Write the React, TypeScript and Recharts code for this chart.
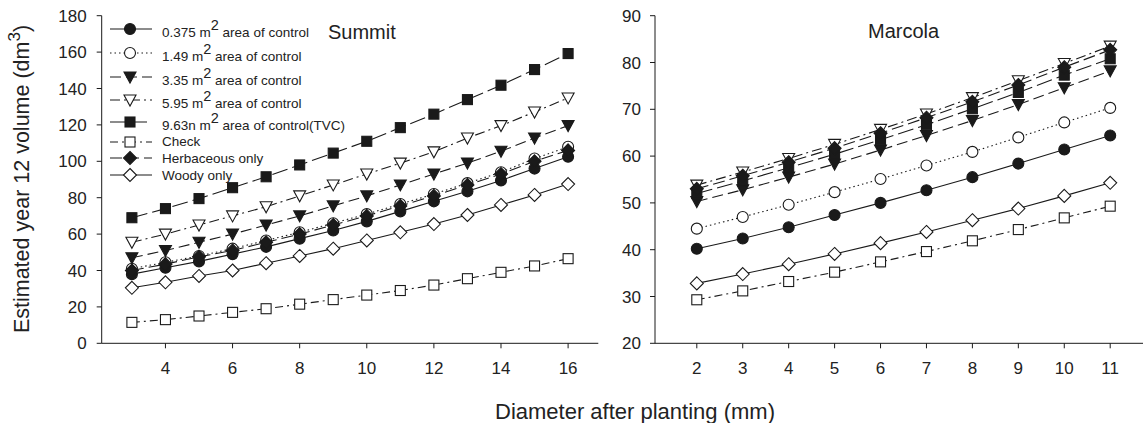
import React from 'react';
import { LineChart, Line, XAxis, YAxis } from 'recharts';

// Summit: diameter 3..16 mm
const summitDiameter = [3, 4, 5, 6, 7, 8, 9, 10, 11, 12, 13, 14, 15, 16];
const summit0375 = [38, 41.5, 45, 49, 53, 57.5, 62, 67, 72.5, 78, 83.5, 89.5, 96, 102.5];
const summit149 = [41, 44.5, 48, 52, 56.5, 61, 66, 71, 76.5, 82, 88, 94, 101.5, 108];
const summit335 = [47, 51, 55.5, 60, 65, 70, 75.5, 81, 87, 93, 99, 105.5, 112.8, 119.6];
const summit595 = [55.5, 60, 65, 70, 75, 81, 87, 93, 99, 105.2, 112.8, 119.6, 127.1, 134.8];
const summit963 = [69, 74, 79.5, 85.5, 91.5, 98, 104.5, 111, 118.5, 125.9, 133.9, 141.8, 150.4, 159.2];
const summitCheck = [11.5, 13, 15, 17, 19, 21.5, 24, 26.5, 29, 32, 35.5, 39, 42.5, 46.5];
const summitHerb = [40, 43.5, 47.5, 51, 55.5, 60, 65, 70, 75.5, 81, 87, 93, 100, 106];
const summitWoody = [30.5, 33.5, 37, 40, 44, 48, 52, 56.5, 61, 65.5, 70.5, 76, 81.5, 87.5];

// Marcola: diameter 2..11 mm
const marcolaDiameter = [2, 3, 4, 5, 6, 7, 8, 9, 10, 11];
const marcola0375 = [40.2, 42.4, 44.8, 47.4, 50.0, 52.7, 55.5, 58.4, 61.4, 64.4];
const marcola149 = [44.5, 47.0, 49.6, 52.3, 55.1, 58.0, 60.9, 64.0, 67.2, 70.3];
const marcola335 = [50.3, 52.8, 55.5, 58.3, 61.3, 64.4, 67.6, 71.0, 74.6, 78.2];
const marcola595 = [53.8, 56.6, 59.5, 62.5, 65.7, 69.0, 72.5, 76.1, 79.8, 83.5];
const marcola963 = [52.0, 54.7, 57.5, 60.4, 63.5, 66.7, 70.1, 73.6, 77.3, 80.8];
const marcolaCheck = [29.3, 31.2, 33.2, 35.2, 37.4, 39.6, 41.9, 44.3, 46.8, 49.3];
const marcolaHerb = [53.0, 55.8, 58.7, 61.7, 64.9, 68.2, 71.6, 75.2, 79.0, 82.7];
const marcolaWoody = [32.8, 34.8, 36.9, 39.1, 41.4, 43.8, 46.3, 48.8, 51.5, 54.3];

const summitTicksX = [4, 6, 8, 10, 12, 14, 16];
const summitTicksY = [0, 20, 40, 60, 80, 100, 120, 140, 160, 180];
const marcolaTicksX = [2, 3, 4, 5, 6, 7, 8, 9, 10, 11];
const marcolaTicksY = [20, 30, 40, 50, 60, 70, 80, 90];

const legendLabels = [
  '0.375 m^2 area of control',
  '1.49 m^2 area of control',
  '3.35 m^2 area of control',
  '5.95 m^2 area of control',
  '9.63n m^2 area of control(TVC)',
  'Check',
  'Herbaceous only',
  'Woody only',
];

const summitData = summitDiameter.map((d, i) => ({
  d,
  a: summit0375[i],
  b: summit149[i],
  c: summit335[i],
  dd: summit595[i],
  e: summit963[i],
  check: summitCheck[i],
  herb: summitHerb[i],
  woody: summitWoody[i],
}));

const marcolaData = marcolaDiameter.map((d, i) => ({
  d,
  a: marcola0375[i],
  b: marcola149[i],
  c: marcola335[i],
  dd: marcola595[i],
  e: marcola963[i],
  check: marcolaCheck[i],
  herb: marcolaHerb[i],
  woody: marcolaWoody[i],
}));

type Shape = 'circle' | 'tri' | 'square' | 'diamond';

const styles: { key: string; shape: Shape; filled: boolean; dash?: string }[] = [
  { key: 'a', shape: 'circle', filled: true },
  { key: 'b', shape: 'circle', filled: false, dash: '1.5 3' },
  { key: 'c', shape: 'tri', filled: true, dash: '11 5' },
  { key: 'dd', shape: 'tri', filled: false, dash: '10 4 2 4' },
  { key: 'e', shape: 'square', filled: true, dash: '16 5' },
  { key: 'check', shape: 'square', filled: false, dash: '8 4 2 4' },
  { key: 'herb', shape: 'diamond', filled: true, dash: '12 5' },
  { key: 'woody', shape: 'diamond', filled: false },
];

const INK = '#1a1a1a';
const FONT = '"Liberation Sans", Arial, sans-serif';

const Mark = ({ cx, cy, shape, filled }: { cx: number; cy: number; shape: Shape; filled: boolean }) => {
  const fill = filled ? INK : '#fff';
  const common = { fill, stroke: INK, strokeWidth: 1.1 };
  if (shape === 'circle') return <circle cx={cx} cy={cy} r={5.5} {...common} />;
  if (shape === 'square') return <rect x={cx - 5} y={cy - 5} width={10} height={10} {...common} />;
  if (shape === 'tri')
    return <polygon points={`${cx - 6},${cy - 5} ${cx + 6},${cy - 5} ${cx},${cy + 6}`} {...common} />;
  return <polygon points={`${cx},${cy - 6.5} ${cx + 6.5},${cy} ${cx},${cy + 6.5} ${cx - 6.5},${cy}`} {...common} />;
};

const makeDot = (shape: Shape, filled: boolean) => (p: any) =>
  <Mark key={`m-${p.index}`} cx={p.cx} cy={p.cy} shape={shape} filled={filled} />;

const tickStyle = { fontSize: 17, fill: '#222', fontFamily: FONT };

const renderLines = () =>
  styles.map((s) => (
    <Line
      key={s.key}
      type="linear"
      dataKey={s.key}
      stroke={INK}
      strokeWidth={1.1}
      strokeDasharray={s.dash}
      dot={makeDot(s.shape, s.filled)}
      activeDot={false}
      isAnimationActive={false}
    />
  ));

const legendRowY = [29.3, 53.3, 77.3, 100, 121.7, 141.7, 158.3, 175];

const Legend = () => (
  <>
    {legendLabels.map((label, i) => {
      const s = styles[i];
      const parts = label.split('^2');
      return (
        <div
          key={label}
          style={{
            position: 'absolute',
            left: 108,
            top: legendRowY[i] - 10,
            height: 20,
            display: 'flex',
            alignItems: 'center',
            fontSize: 13.5,
            fontFamily: FONT,
            color: '#222',
            whiteSpace: 'nowrap',
          }}
        >
          <svg width={46} height={20} style={{ marginRight: 8 }}>
            <line x1={2} y1={10} x2={44} y2={10} stroke={INK} strokeWidth={1.1} strokeDasharray={s.dash} />
            <Mark cx={22} cy={10} shape={s.shape} filled={s.filled} />
          </svg>
          <span style={{ position: 'relative', top: parts.length > 1 ? 3 : 0 }}>
            {parts[0]}
            {parts.length > 1 && (
              <>
                <span style={{ fontSize: 14.5, position: 'relative', top: -7 }}>2</span>
                {parts[1]}
              </>
            )}
          </span>
        </div>
      );
    })}
  </>
);

export default function App() {
  return (
    <div
      style={{
        position: 'absolute',
        left: 0,
        top: 0,
        width: 1143,
        height: 423,
        overflow: 'hidden',
        background: '#fff',
        fontFamily: FONT,
      }}
    >
      <div style={{ position: 'absolute', left: 0, top: 0 }}>
        <LineChart
          width={620}
          height={400}
          data={summitData}
          margin={{ top: 15.7, right: 21.7, bottom: 16.7, left: 0 }}
        >
          <XAxis
            dataKey="d"
            type="number"
            domain={[2.1, 16.9]}
            ticks={summitTicksX}
            allowDataOverflow
            height={40}
            tickSize={5}
            tickMargin={13.5}
            tick={tickStyle}
            stroke={INK}
          />
          <XAxis xAxisId="top" dataKey="d" type="number" domain={[2.1, 16.9]} orientation="top" height={0} tick={false} tickLine={false} stroke={INK} />
          <YAxis
            type="number"
            domain={[0, 180]}
            ticks={summitTicksY}
            width={101.7}
            tickSize={5}
            tickMargin={10}
            tick={tickStyle}
            stroke={INK}
          />
          <YAxis yAxisId="right" type="number" domain={[0, 180]} orientation="right" width={0} tick={false} tickLine={false} stroke={INK} />
          {renderLines()}
        </LineChart>
        <Legend />
        <div style={{ position: 'absolute', left: 328, top: 21, fontSize: 20, color: '#222', whiteSpace: 'nowrap' }}>
          Summit
        </div>
      </div>

      <div style={{ position: 'absolute', left: 620, top: 0 }}>
        <LineChart
          width={560}
          height={400}
          data={marcolaData}
          margin={{ top: 15.7, right: 28, bottom: 16.7, left: 0 }}
        >
          <XAxis
            dataKey="d"
            type="number"
            domain={[1.09, 11.91]}
            ticks={marcolaTicksX}
            allowDataOverflow
            height={40}
            tickSize={5}
            tickMargin={13.5}
            tick={tickStyle}
            stroke={INK}
          />
          <XAxis xAxisId="top" dataKey="d" type="number" domain={[1.09, 11.91]} orientation="top" height={0} tick={false} tickLine={false} stroke={INK} />
          <YAxis
            type="number"
            domain={[20, 90]}
            ticks={marcolaTicksY}
            width={35}
            tickSize={5}
            tickMargin={9}
            tick={tickStyle}
            stroke={INK}
          />
          {renderLines()}
        </LineChart>
        <div style={{ position: 'absolute', left: 248, top: 19.5, fontSize: 20, color: '#222', whiteSpace: 'nowrap' }}>
          Marcola
        </div>
      </div>

      <div
        style={{
          position: 'absolute',
          left: 22,
          top: 179,
          transform: 'translate(-50%, -50%) rotate(-90deg)',
          fontSize: 21.5,
          color: '#222',
          whiteSpace: 'nowrap',
        }}
      >
        Estimated year 12 volume (dm<span style={{ fontSize: 17, position: 'relative', top: -9 }}>3</span>)
      </div>
      <div
        style={{
          position: 'absolute',
          left: 635,
          top: 399,
          transform: 'translateX(-50%)',
          fontSize: 22,
          color: '#222',
          whiteSpace: 'nowrap',
        }}
      >
        Diameter after planting (mm)
      </div>
    </div>
  );
}
